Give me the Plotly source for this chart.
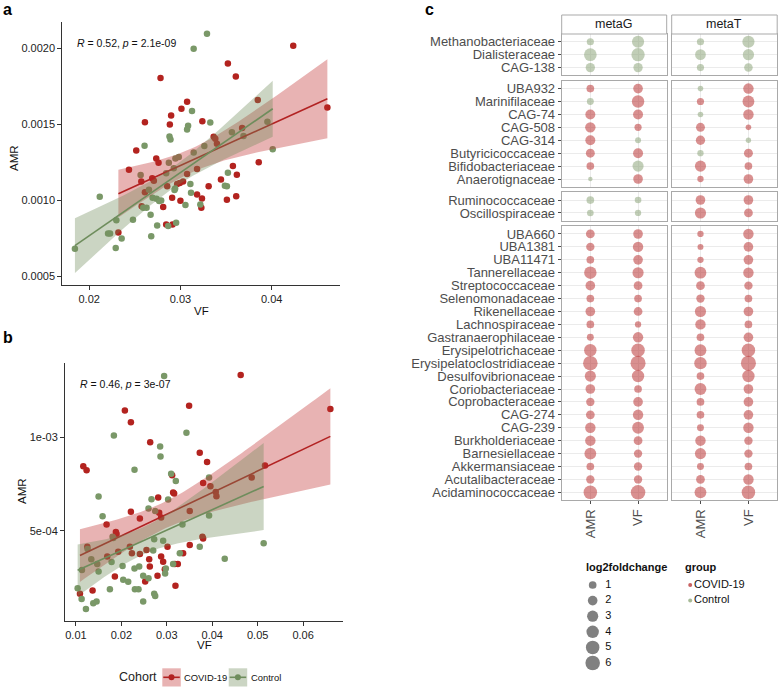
import numpy as np
import plotly.graph_objects as go

W, H = 778, 687

# ---------------- panel a : VF vs AMR (metaG) ----------------
a_covid_vf = [0.04236, 0.03520, 0.03607, 0.02782, 0.03847, 0.03073, 0.03011, 0.02898, 0.03240, 0.02611,
              0.02884, 0.03676, 0.03364, 0.03382, 0.03400, 0.02516, 0.02735, 0.02760, 0.03575, 0.03858,
              0.02436, 0.03182, 0.03618, 0.02571, 0.02691, 0.02709, 0.03029, 0.02993, 0.02964, 0.03444,
              0.03309, 0.02611, 0.03182, 0.03611, 0.03236, 0.02909, 0.03000, 0.03509, 0.03229, 0.02811,
              0.02575, 0.02844, 0.02913, 0.02320, 0.04610, 0.02855, 0.03073]
a_covid_amr = [0.002017, 0.001900, 0.001814, 0.001805, 0.001660, 0.001649, 0.001602, 0.001558, 0.001520, 0.001513,
               0.001498, 0.001476, 0.001418, 0.001405, 0.001372, 0.001327, 0.001275, 0.001247, 0.001225, 0.001249,
               0.001201, 0.001206, 0.001167, 0.001123, 0.001145, 0.001128, 0.001123, 0.001113, 0.001106, 0.001136,
               0.001091, 0.001052, 0.001037, 0.001026, 0.001011, 0.001015, 0.000996, 0.001002, 0.000950, 0.000955,
               0.000959, 0.000840, 0.000840, 0.000786, 0.001610, 0.001091, 0.001173]
a_ctrl_vf = [0.03291, 0.03145, 0.03127, 0.03327, 0.03084, 0.03073, 0.02880, 0.02891, 0.03564, 0.03691,
             0.03953, 0.04011, 0.02607, 0.03262, 0.03145, 0.02945, 0.02982, 0.02873, 0.02927, 0.02844,
             0.03520, 0.02564, 0.03109, 0.03487, 0.03509, 0.02942, 0.02935, 0.02655, 0.03116, 0.02116,
             0.02695, 0.02738, 0.02789, 0.02767, 0.03055, 0.03218, 0.02629, 0.02593, 0.02673, 0.02480,
             0.02298, 0.02953, 0.02745, 0.02866, 0.02207, 0.02229, 0.02680, 0.02356, 0.02291, 0.01844]
a_ctrl_amr = [0.002097, 0.001998, 0.001587, 0.001511, 0.001491, 0.001465, 0.001420, 0.001400, 0.001448, 0.001422,
              0.001517, 0.001336, 0.001359, 0.001357, 0.001314, 0.001275, 0.001284, 0.001247, 0.001210, 0.001177,
              0.001180, 0.001165, 0.001106, 0.001095, 0.001091, 0.001076, 0.001067, 0.001069, 0.001048, 0.001022,
              0.001015, 0.001009, 0.000998, 0.000994, 0.000968, 0.000972, 0.000950, 0.000950, 0.000903, 0.000870,
              0.000868, 0.000851, 0.000833, 0.000829, 0.000781, 0.000781, 0.000762, 0.000747, 0.000684, 0.000680]
a_stat = "<i>R</i> = 0.52, <i>p</i> = 2.1e-09"
a_xticks = [0.02, 0.03, 0.04]
a_xticklabels = ["0.02", "0.03", "0.04"]
a_yticks = [0.0005, 0.0010, 0.0015, 0.0020]
a_yticklabels = ["0.0005", "0.0010", "0.0015", "0.0020"]

# ---------------- panel b : VF vs AMR (metaT) ----------------
b_covid_vf = [0.04626, 0.02077, 0.03491, 0.02209, 0.02634, 0.03725, 0.03886, 0.01161, 0.01234, 0.03117,
              0.03139, 0.03161, 0.03799, 0.02209, 0.02407, 0.01674, 0.01879, 0.01894, 0.02810, 0.02832,
              0.02875, 0.03960, 0.04077, 0.04092, 0.03505, 0.03784, 0.03799, 0.05161, 0.04868, 0.03015,
              0.03505, 0.03359, 0.02187, 0.02231, 0.02553, 0.01930, 0.01689, 0.02407, 0.02612, 0.02626,
              0.02875, 0.02919, 0.03176, 0.03242, 0.01088, 0.01366, 0.01857, 0.02795, 0.02524, 0.02956,
              0.03190, 0.01249, 0.06600]
b_covid_amr = [0.001332, 0.001142, 0.001168, 0.001080, 0.000973, 0.000917, 0.000867, 0.000844, 0.000823, 0.000796,
               0.000704, 0.000699, 0.000755, 0.000601, 0.000566, 0.000534, 0.000493, 0.000482, 0.000677, 0.000596,
               0.000571, 0.000738, 0.000707, 0.000684, 0.000606, 0.000468, 0.000459, 0.000849, 0.000784, 0.000415,
               0.000424, 0.000380, 0.000415, 0.000380, 0.000397, 0.000388, 0.000362, 0.000376, 0.000348, 0.000309,
               0.000362, 0.000335, 0.000323, 0.000323, 0.000163, 0.000181, 0.000255, 0.000259, 0.000229, 0.000294,
               0.000206, 0.000415, 0.001150]
b_ctrl_vf = [0.02941, 0.01835, 0.03432, 0.02853, 0.02861, 0.02289, 0.03095, 0.03198, 0.01498, 0.02663,
             0.03029, 0.03930, 0.01586, 0.02597, 0.02744, 0.01806, 0.01821, 0.02919, 0.02722, 0.03344,
             0.03930, 0.01256, 0.01132, 0.01337, 0.01469, 0.01498, 0.01784, 0.02026, 0.02289, 0.02392,
             0.01747, 0.02040, 0.02150, 0.02297, 0.02377, 0.02480, 0.02597, 0.02963, 0.02978, 0.03139,
             0.03286, 0.03725, 0.04275, 0.05132, 0.02700, 0.02480, 0.02722, 0.02744, 0.01037, 0.01125,
             0.01381, 0.01454, 0.01220]
b_ctrl_amr = [0.001326, 0.001009, 0.001023, 0.000950, 0.000897, 0.000826, 0.000805, 0.000766, 0.000683, 0.000668,
              0.000667, 0.000784, 0.000578, 0.000619, 0.000605, 0.000468, 0.000461, 0.000447, 0.000454, 0.000534,
              0.000582, 0.000402, 0.000291, 0.000348, 0.000323, 0.000282, 0.000333, 0.000312, 0.000298, 0.000309,
              0.000188, 0.000238, 0.000227, 0.000188, 0.000188, 0.000259, 0.000246, 0.000271, 0.000298, 0.000323,
              0.000380, 0.000415, 0.000351, 0.000433, 0.000394, 0.000122, 0.000163, 0.000152, 0.000193, 0.000135,
              0.000113, 0.000122, 0.000082]
b_stat = "<i>R</i> = 0.46, <i>p</i> = 3e-07"
b_xticks = [0.01, 0.02, 0.03, 0.04, 0.05, 0.06]
b_xticklabels = ["0.01", "0.02", "0.03", "0.04", "0.05", "0.06"]
b_yticks = [0.0005, 0.0010]
b_yticklabels = ["5e-04", "1e-03"]

# ---------------- panel c : differential families ----------------
c_facets = ["metaG", "metaT"]
c_features = ["AMR", "VF"]
c_block1 = ["Methanobacteriaceae", "Dialisteraceae", "CAG-138"]
c_block2 = ["UBA932", "Marinifilaceae", "CAG-74", "CAG-508", "CAG-314", "Butyricicoccaceae",
            "Bifidobacteriaceae", "Anaerotignaceae"]
c_block3 = ["Ruminococcaceae", "Oscillospiraceae"]
c_block4 = ["UBA660", "UBA1381", "UBA11471", "Tannerellaceae", "Streptococcaceae", "Selenomonadaceae",
            "Rikenellaceae", "Lachnospiraceae", "Gastranaerophilaceae", "Erysipelotrichaceae",
            "Erysipelatoclostridiaceae", "Desulfovibrionaceae", "Coriobacteriaceae", "Coprobacteraceae",
            "CAG-274", "CAG-239", "Burkholderiaceae", "Barnesiellaceae", "Akkermansiaceae",
            "Acutalibacteraceae", "Acidaminococcaceae"]
# log2 fold change per family (block order, top to bottom)
c_metaG_AMR_lfc = [0.8, 4.2, 1.8,
                   1.0, 0.7, 2.2, 2.5, 2.2, 1.6, 1.0, 0.1,
                   1.0, 0.6,
                   1.5, 1.3, 1.0, 4.0, 2.0, 1.0, 2.0, 1.0, 0.7, 4.0, 6.0, 3.0, 2.0, 1.3, 1.5, 2.5, 2.5, 3.5, 1.0, 1.3, 5.0]
c_metaG_VF_lfc = [3.8, 4.8, 1.8,
                  2.0, 4.0, 2.2, 0.8, 0.4, 2.2, 3.0, 2.0,
                  0.6, 0.5,
                  2.0, 2.5, 2.0, 3.0, 1.5, 1.0, 1.5, 0.5, 2.5, 5.0, 6.5, 4.0, 1.0, 2.0, 2.5, 3.5, 1.5, 1.3, 1.3, 1.3, 6.0]
c_metaT_AMR_lfc = [0.8, 2.7, 0.8,
                   0.3, 0.8, 0.3, 1.6, 1.8, 0.5, 3.0, 0.5,
                   2.0, 3.0,
                   0.5, 0.4, 0.5, 3.5, 1.5, 1.3, 3.0, 2.5, 1.0, 3.5, 4.0, 1.0, 3.5, 1.0, 1.0, 0.7, 2.5, 3.0, 0.7, 1.5, 3.5]
c_metaT_VF_lfc = [3.8, 3.1, 1.4,
                  2.5, 3.5, 2.5, 0.3, 0.25, 1.6, 1.0, 2.0,
                  2.0, 1.5,
                  2.5, 2.0, 2.0, 2.5, 1.3, 1.0, 2.0, 1.0, 2.0, 5.0, 6.5, 4.0, 2.0, 2.0, 2.0, 2.5, 1.3, 1.3, 1.0, 2.5, 5.0]
# enriched group per family: "COVID-19" or "Control"
c_metaG_AMR_grp = ["Control"] * 3 + ["COVID-19", "Control", "COVID-19", "COVID-19", "COVID-19", "COVID-19", "COVID-19", "Control"] \
    + ["Control", "Control"] + ["COVID-19"] * 21
c_metaG_VF_grp = ["Control"] * 3 + ["COVID-19", "COVID-19", "COVID-19", "COVID-19", "Control", "COVID-19", "Control", "COVID-19"] \
    + ["Control", "Control"] + ["COVID-19"] * 21
c_metaT_AMR_grp = ["Control"] * 3 + ["Control", "COVID-19", "Control", "COVID-19", "COVID-19", "Control", "COVID-19", "COVID-19"] \
    + ["COVID-19", "COVID-19"] + ["COVID-19"] * 21
c_metaT_VF_grp = ["Control"] * 3 + ["COVID-19", "COVID-19", "COVID-19", "COVID-19", "Control", "COVID-19", "COVID-19", "COVID-19"] \
    + ["COVID-19", "COVID-19"] + ["COVID-19"] * 21
c_legend_breaks = [1, 2, 3, 4, 5, 6]
c_groups = ["COVID-19", "Control"]

# ---------------- styles ----------------
FONT = "Liberation Sans, Arial, Helvetica, sans-serif"
COVID_PT, CTRL_PT = "#B3231F", "#7A9868"
COVID_LINE, CTRL_LINE = "#B22222", "#6E8D5C"
COVID_FILL, CTRL_FILL = "rgba(190,45,45,0.36)", "rgba(110,139,90,0.36)"
C_COLORS = {"COVID-19": "rgba(188,62,62,0.82)", "Control": "rgba(142,166,122,0.78)"}
AX_COL = "#333333"


def px_x(p):
    return p / W


def px_y(p):
    return 1 - p / H


def t_quant(df, z=1.959964):
    return z + (z ** 3 + z) / (4 * df) + (5 * z ** 5 + 16 * z ** 3 + 3 * z) / (96 * df ** 2)


def smooth_band(x, y, n=100):
    x = np.asarray(x, float)
    y = np.asarray(y, float)
    xm, ym = x.mean(), y.mean()
    sxx = ((x - xm) ** 2).sum()
    b = ((x - xm) * (y - ym)).sum() / sxx
    a = ym - b * xm
    s = np.sqrt(((y - a - b * x) ** 2).sum() / (len(x) - 2))
    g = np.linspace(x.min(), x.max(), n)
    f = a + b * g
    se = s * np.sqrt(1 / len(x) + (g - xm) ** 2 / sxx)
    t = t_quant(len(x) - 2)
    return g, f, f - t * se, f + t * se


def expand(lo, hi, f=0.05):
    s = hi - lo
    return [lo - f * s, hi + f * s]


def lfc_size(v):
    return 3 + 12 * np.sqrt(np.asarray(v, float) / 6.5)


def note(x, y, text, size=11, xanchor="center", angle=0, color="#111"):
    return dict(x=px_x(x), y=px_y(y), xref="paper", yref="paper", text=text, xanchor=xanchor,
                yanchor="middle", showarrow=False, textangle=angle, font=dict(size=size, color=color))


fig = go.Figure()
layout = dict(width=W, height=H, margin=dict(l=0, r=0, t=0, b=0), autosize=False,
              paper_bgcolor="white", plot_bgcolor="white", showlegend=False,
              font=dict(family=FONT, color="#222"))
annotations = []
shapes = []


def scatter_panel(idx, cvx, cvy, hvx, hvy, xdom, ydom, xticks, xlabels, yticks, ylabels):
    xa = "x" if idx == 1 else f"x{idx}"
    ya = "y" if idx == 1 else f"y{idx}"
    for vx, vy, col in [(cvx, cvy, COVID_PT), (hvx, hvy, CTRL_PT)]:
        fig.add_trace(go.Scatter(x=vx, y=vy, mode="markers", xaxis=xa, yaxis=ya, hoverinfo="skip",
                                 marker=dict(color=col, size=6.5, line=dict(width=0))))
    ylo, yhi = [], []
    for vx, vy, fill, lc in [(cvx, cvy, COVID_FILL, COVID_LINE), (hvx, hvy, CTRL_FILL, CTRL_LINE)]:
        g, f, lo, hi = smooth_band(vx, vy)
        ylo.append(lo.min())
        yhi.append(hi.max())
        fig.add_trace(go.Scatter(x=np.concatenate([g, g[::-1]]), y=np.concatenate([hi, lo[::-1]]),
                                 fill="toself", fillcolor=fill, line=dict(width=0), mode="lines",
                                 xaxis=xa, yaxis=ya, hoverinfo="skip"))
        fig.add_trace(go.Scatter(x=g, y=f, mode="lines", line=dict(color=lc, width=1.6),
                                 xaxis=xa, yaxis=ya, hoverinfo="skip"))
    allx = list(cvx) + list(hvx)
    ally = list(cvy) + list(hvy)
    xr = expand(min(allx), max(allx))
    yr = expand(min(min(ally), min(ylo)), max(max(ally), max(yhi)))
    key = "" if idx == 1 else str(idx)
    common = dict(showline=True, linecolor=AX_COL, linewidth=1, ticks="outside", ticklen=4,
                  tickcolor=AX_COL, tickfont=dict(size=11, color="#222"), showgrid=False, zeroline=False)
    layout["xaxis" + key] = dict(domain=xdom, anchor=ya, range=xr, tickvals=xticks, ticktext=xlabels, **common)
    layout["yaxis" + key] = dict(domain=ydom, anchor=xa, range=yr, tickvals=yticks, ticktext=ylabels, **common)


# panel a
scatter_panel(1, a_covid_vf, a_covid_amr, a_ctrl_vf, a_ctrl_amr,
              [px_x(62.3), px_x(340)], [px_y(285), px_y(21.7)],
              a_xticks, a_xticklabels, a_yticks, a_yticklabels)
# panel b
scatter_panel(2, b_covid_vf, b_covid_amr, b_ctrl_vf, b_ctrl_amr,
              [px_x(65), px_x(343)], [px_y(620.7), px_y(363.3)],
              b_xticks, b_xticklabels, b_yticks, b_yticklabels)

annotations += [
    note(75, 42.7, a_stat, size=10.5, xanchor="left"),
    note(78, 384, b_stat, size=10.5, xanchor="left"),
    note(14, 158, "AMR", size=11.5, angle=-90),
    note(201, 310.5, "VF", size=11.5),
    note(22, 491, "AMR", size=11.5, angle=-90),
    note(204, 645, "VF", size=11.5),
    note(1, 9, "<b>a</b>", size=16, xanchor="left", color="#000"),
    note(1, 337, "<b>b</b>", size=16, xanchor="left", color="#000"),
    note(423, 9, "<b>c</b>", size=16, xanchor="left", color="#000"),
]

# bottom legend (Cohort)
annotations.append(note(117, 677, "Cohort", size=12.5, xanchor="left", color="#222"))
for (x0, lab, fill, lc) in [(162.3, "COVID-19", COVID_FILL, COVID_LINE), (228.7, "Control", CTRL_FILL, CTRL_LINE)]:
    shapes.append(dict(type="rect", xref="paper", yref="paper", x0=px_x(x0), x1=px_x(x0 + 18.5),
                       y0=px_y(686.5), y1=px_y(668.3), fillcolor=fill, line=dict(width=0)))
    shapes.append(dict(type="line", xref="paper", yref="paper", x0=px_x(x0 + 1), x1=px_x(x0 + 17.5),
                       y0=px_y(677.3), y1=px_y(677.3), line=dict(color=lc, width=1.6)))
    shapes.append(dict(type="circle", xref="paper", yref="paper", x0=px_x(x0 + 6.2), x1=px_x(x0 + 12.2),
                       y0=px_y(680.3), y1=px_y(674.3), fillcolor=lc, line=dict(width=0)))
    annotations.append(note(x0 + 20.0, 677.3, lab, size=9.4, xanchor="left"))

# ---------------- panel c layout ----------------
blocks = [c_block1, c_block2, c_block3, c_block4]
unit, gap, top = 12.92, 5.5, 34.0
col_dom = [(561.7, 666.7), (671.7, 777.2)]
GRID = "#ebebeb"
BORDER = "#a9a9a9"
series = {("metaG", "AMR"): (c_metaG_AMR_lfc, c_metaG_AMR_grp),
          ("metaG", "VF"): (c_metaG_VF_lfc, c_metaG_VF_grp),
          ("metaT", "AMR"): (c_metaT_AMR_lfc, c_metaT_AMR_grp),
          ("metaT", "VF"): (c_metaT_VF_lfc, c_metaT_VF_grp)}

ypos = top
start = 0
for g, fams in enumerate(blocks):
    n = len(fams)
    h = (n - 1 + 1.2) * unit
    y0, y1 = ypos, ypos + h
    for k, facet in enumerate(c_facets):
        idx = 3 + g * 2 + k
        xs, ys, sz, cols = [], [], [], []
        for feat in c_features:
            lfc, grp = series[(facet, feat)]
            for i, fam in enumerate(fams):
                xs.append(feat)
                ys.append(fam)
                sz.append(float(lfc_size(lfc[start + i])))
                cols.append(C_COLORS[grp[start + i]])
        fig.add_trace(go.Scatter(x=xs, y=ys, mode="markers", xaxis=f"x{idx}", yaxis=f"y{idx}",
                                 hoverinfo="skip", marker=dict(size=sz, color=cols, line=dict(width=0))))
        last = (g == len(blocks) - 1)
        layout[f"xaxis{idx}"] = dict(domain=[px_x(col_dom[k][0]), px_x(col_dom[k][1])], anchor=f"y{idx}",
                                     type="category", categoryorder="array", categoryarray=c_features,
                                     tickmode="array", tickvals=c_features, ticktext=c_features,
                                     range=[-0.6, 1.6], showgrid=True, gridcolor=GRID, gridwidth=1,
                                     showline=True, mirror=True, linecolor=BORDER, linewidth=1,
                                     zeroline=False, ticks="outside" if last else "", ticklen=3,
                                     tickcolor="#4d4d4d", showticklabels=last, tickangle=-90,
                                     tickfont=dict(size=13, color="#4d4d4d"))
        layout[f"yaxis{idx}"] = dict(domain=[px_y(y1), px_y(y0)], anchor=f"x{idx}",
                                     type="category", categoryorder="array", categoryarray=fams,
                                     tickmode="array", tickvals=fams, ticktext=fams,
                                     range=[n - 1 + 0.6, -0.6], showgrid=True, gridcolor=GRID, gridwidth=1,
                                     showline=True, mirror=True, linecolor=BORDER, linewidth=1,
                                     zeroline=False, ticks="outside" if k == 0 else "", ticklen=3,
                                     tickcolor="#4d4d4d", showticklabels=(k == 0),
                                     tickfont=dict(size=13, color="#4d4d4d"))
    start += n
    ypos = y1 + gap

# facet strips
for k, facet in enumerate(c_facets):
    shapes.append(dict(type="rect", xref="paper", yref="paper", x0=px_x(col_dom[k][0]), x1=px_x(col_dom[k][1]),
                       y0=px_y(34), y1=px_y(15), fillcolor="white", line=dict(color=BORDER, width=1)))
    annotations.append(note((col_dom[k][0] + col_dom[k][1]) / 2, 24.5, facet, size=12.5, color="#1a1a1a"))

# ---------------- panel c legends ----------------
layout["xaxis11"] = dict(domain=[px_x(580), px_x(770)], anchor="y11", range=[0, 15], visible=False)
layout["yaxis11"] = dict(domain=[px_y(670.8), px_y(577.2)], anchor="x11", range=[6.5, 0.5], visible=False)
fig.add_trace(go.Scatter(x=[1] * len(c_legend_breaks), y=c_legend_breaks, mode="markers",
                         xaxis="x11", yaxis="y11", hoverinfo="skip",
                         marker=dict(size=list(lfc_size(c_legend_breaks)), color="#4a4a4a", line=dict(width=0))))
fig.add_trace(go.Scatter(x=[2.0] * len(c_legend_breaks), y=c_legend_breaks, mode="text",
                         text=[str(v) for v in c_legend_breaks], textposition="middle right",
                         textfont=dict(size=11, color="#111"), xaxis="x11", yaxis="y11", hoverinfo="skip"))
fig.add_trace(go.Scatter(x=[8.7] * len(c_groups), y=[1, 2], mode="markers",
                         xaxis="x11", yaxis="y11", hoverinfo="skip",
                         marker=dict(size=4, color=[C_COLORS[g] for g in c_groups], line=dict(width=0))))
fig.add_trace(go.Scatter(x=[9.0] * len(c_groups), y=[1, 2], mode="text",
                         text=c_groups, textposition="middle right",
                         textfont=dict(size=11, color="#111"), xaxis="x11", yaxis="y11", hoverinfo="skip"))
annotations += [
    note(584, 567, "<b>log2foldchange</b>", size=11, xanchor="left"),
    note(682.5, 567, "<b>group</b>", size=11, xanchor="left"),
]

layout["annotations"] = annotations
layout["shapes"] = shapes
fig.update_layout(**layout)
fig.write_html("out.html", config={"displayModeBar": False},
               post_script="document.body.style.margin='0px';document.body.style.padding='0px';")
